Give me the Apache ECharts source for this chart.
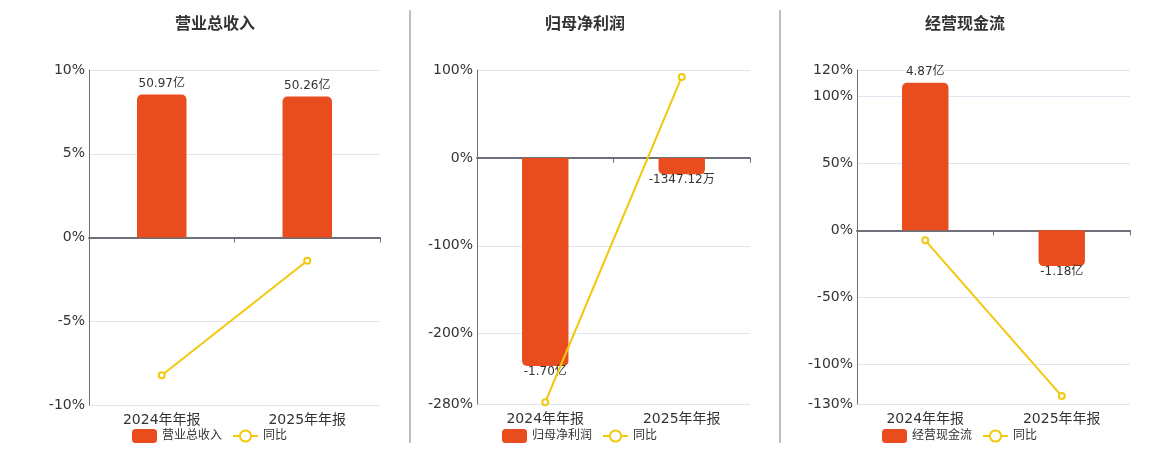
<!DOCTYPE html>
<html>
<head>
<meta charset="utf-8">
<script src="https://cdn.jsdelivr.net/npm/echarts@6/dist/echarts.min.js"></script>
<style>
  html, body { margin: 0; padding: 0; background: #fff; }
  #main { width: 1160px; height: 450px; }
</style>
</head>
<body>
<div id="main"></div>
<script>
var categories = ['2024年年报', '2025年年报'];

// 数值单位：亿元
var revenue = [50.97, 50.26];
var netProfit = [-1.70, -0.134712];
var cashFlow = [4.87, -1.18];

// 同比 %
var revenueYoy = [-8.22, -1.39];
var netProfitYoy = [-278, 92.08];
var cashFlowYoy = [-7.5, -124.1];

// y轴刻度
var revenueTicks = [-10, -5, 0, 5, 10];
var netProfitTicks = [-280, -200, -100, 0, 100];
var cashFlowTicks = [-130, -100, -50, 0, 50, 100, 120];

var barColor = '#e94c1d';
var lineColor = '#f2c80f';
var axisColor = '#6e7079';
var fontFamily = "'DejaVu Sans', 'Noto Sans CJK SC', sans-serif";

function fmtMoney(v) {
    if (Math.abs(v) >= 1) return v.toFixed(2) + '亿';
    return (v * 10000).toFixed(2) + '万';
}

function barData(arr) {
    return arr.map(function (v) {
        return {
            value: v,
            itemStyle: { borderRadius: v >= 0 ? [5, 5, 0, 0] : [0, 0, 5, 5] },
            label: { position: v >= 0 ? 'top' : 'bottom', distance: v >= 0 ? 5 : 0 }
        };
    });
}

var panels = [
    { title: '营业总收入', center: 210, legendLeft: 127, bars: revenue, yoy: revenueYoy, ticks: revenueTicks,
      grid: { left: 89, right: 780, top: 70, bottom: 45 }, barMin: -59.7, barMax: 59.7 },
    { title: '归母净利润', center: 580, legendLeft: 497, bars: netProfit, yoy: netProfitYoy, ticks: netProfitTicks,
      grid: { left: 477, right: 410, top: 70, bottom: 46 }, barMin: -2.011, barMax: 0.718 },
    { title: '经营现金流', center: 960, legendLeft: 877, bars: cashFlow, yoy: cashFlowYoy, ticks: cashFlowTicks,
      grid: { left: 857, right: 30, top: 70, bottom: 46 }, barMin: -5.73, barMax: 5.29 }
];

var option = {
    animation: false,
    textStyle: { fontFamily: fontFamily },
    title: [], legend: [], grid: [], xAxis: [], yAxis: [], series: [],
    graphic: [
        { type: 'line', shape: { x1: 410, y1: 10, x2: 410, y2: 443 }, style: { stroke: '#aaa', lineWidth: 1.5 } },
        { type: 'line', shape: { x1: 780, y1: 10, x2: 780, y2: 443 }, style: { stroke: '#aaa', lineWidth: 1.5 } }
    ]
};

panels.forEach(function (p, i) {
    option.title.push({
        text: p.title, left: p.center, top: 12, textAlign: 'center',
        textStyle: { fontSize: 16, fontWeight: 'bold', color: '#333', fontFamily: fontFamily }
    });
    option.legend.push({
        data: [p.title, '同比'], left: p.legendLeft, top: 424,
        itemWidth: 25, itemHeight: 14, itemGap: 10,
        textStyle: { fontSize: 12, color: '#333', fontFamily: fontFamily }
    });
    option.grid.push(p.grid);

    // 标签轴（底部）
    option.xAxis.push({
        type: 'category', gridIndex: i, data: categories, position: 'bottom',
        axisLine: { show: false, onZero: false },
        axisTick: { show: false },
        axisLabel: { fontSize: 14, color: '#333', margin: 8, fontFamily: fontFamily }
    });
    // 零线轴
    option.xAxis.push({
        type: 'category', gridIndex: i, data: categories, position: 'bottom',
        axisLine: { onZero: true, onZeroAxisIndex: i * 2, lineStyle: { color: axisColor, width: 2 } },
        axisTick: { show: true, length: 5, lineStyle: { color: axisColor } },
        axisLabel: { show: false }
    });

    var mn = p.ticks[0], mx = p.ticks[p.ticks.length - 1];
    option.yAxis.push({
        type: 'value', gridIndex: i, min: mn, max: mx,
        axisLine: { show: true, lineStyle: { color: axisColor } },
        axisTick: { show: false, customValues: p.ticks },
        axisLabel: { fontSize: 14, color: '#333', margin: 4, customValues: p.ticks, fontFamily: fontFamily,
            formatter: function (v) { return v + '%'; } },
        splitLine: { show: true, lineStyle: { color: '#e0e6f1' } }
    });
    option.yAxis.push({
        type: 'value', gridIndex: i, min: p.barMin, max: p.barMax, show: false,
        splitLine: { show: false }
    });

    option.series.push({
        name: p.title, type: 'bar', xAxisIndex: i * 2, yAxisIndex: i * 2 + 1,
        barWidth: '34%', itemStyle: { color: barColor },
        label: { show: true, fontSize: 12, color: '#333', fontFamily: fontFamily,
            formatter: function (d) { return fmtMoney(d.value); } },
        data: barData(p.bars)
    });
    option.series.push({
        name: '同比', type: 'line', xAxisIndex: i * 2, yAxisIndex: i * 2,
        symbol: 'emptyCircle', symbolSize: 6,
        itemStyle: { color: lineColor }, lineStyle: { color: lineColor, width: 2 },
        data: p.yoy, z: 5
    });
});

var chart = echarts.init(document.getElementById('main'));
chart.setOption(option);
</script>
</body>
</html>
